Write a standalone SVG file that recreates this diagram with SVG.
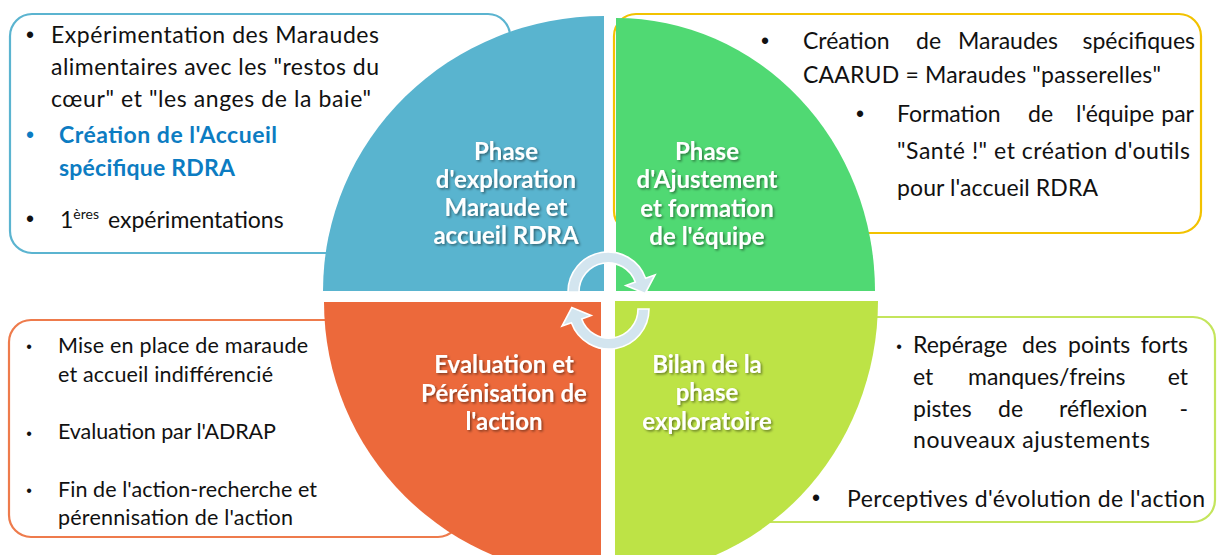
<svg xmlns="http://www.w3.org/2000/svg" width="1218" height="555" viewBox="0 0 1218 555">
<defs>
<filter id="sh" x="-10%" y="-20%" width="130%" height="150%">
<feDropShadow dx="1.5" dy="1.5" stdDeviation="1.2" flood-color="#000" flood-opacity="0.45"/>
</filter>
</defs>
<style>
.box{fill:#fff;stroke-width:2.2}
.t{font-family:Lato,"Liberation Sans",sans-serif;font-size:23px;fill:#111}
.s{font-size:21.5px}
.bl{font-family:"Liberation Sans",sans-serif;font-size:23px;fill:#111;text-anchor:middle}
.sb{font-size:16px}
.blue{fill:#0C7CC2;font-weight:bold}
.h{font-family:Lato,"Liberation Sans",sans-serif;font-weight:bold;font-size:24px;fill:#fff;text-anchor:middle;filter:url(#sh)}
.e{text-anchor:end}
.arrow{fill:#D3E5EF;stroke:#fff;stroke-width:1.6}
</style>
<rect width="1218" height="555" fill="#fff"/>

<g id="box-top-left">
<rect class="box" x="10" y="14" width="500" height="239" rx="22" stroke="#5BB4D0"/>
<text class="bl" x="30" y="43">•</text>
<text class="t" x="51" y="43" textLength="328">Expérimentation des Maraudes</text>
<text class="t" x="51" y="75" textLength="328">alimentaires avec les "restos du</text>
<text class="t" x="51" y="107" textLength="320">cœur" et "les anges de la baie"</text>
<text class="bl" x="30" y="143" style="fill:#0C7CC2">•</text>
<text class="t blue" x="59" y="143" textLength="218">Création de l'Accueil</text>
<text class="t blue" x="59" y="176" textLength="176">spécifique RDRA</text>
<text class="bl" x="30" y="227">•</text>
<text class="t" x="60" y="228">1<tspan font-size="14" dy="-9">ères</tspan><tspan dy="9" x="108">expérimentations</tspan></text>
</g>

<g id="box-top-right">
<rect class="box" x="614" y="14" width="587" height="219" rx="22" stroke="#F2C200"/>
<text class="bl" x="765" y="49">•</text>
<text class="t" x="803" y="49">Création</text>
<text class="t" x="916" y="49">de</text>
<text class="t" x="958" y="49">Maraudes</text>
<text class="t e" x="1195" y="49">spécifiques</text>
<text class="t" x="803" y="83" textLength="358">CAARUD = Maraudes "passerelles"</text>
<text class="bl" x="860" y="122">•</text>
<text class="t" x="897" y="122">Formation</text>
<text class="t" x="1028" y="122">de</text>
<text class="t" x="1076" y="122">l'équipe</text>
<text class="t e" x="1194" y="122">par</text>
<text class="t" x="897" y="159" textLength="293">"Santé !" et création d'outils</text>
<text class="t" x="897" y="196" textLength="201">pour l'accueil RDRA</text>
</g>

<g id="box-bottom-left">
<rect class="box" x="9" y="320" width="451" height="217" rx="22" stroke="#EE7B4C"/>
<text class="bl sb" x="29" y="352">•</text>
<text class="t s" x="58" y="353" textLength="250">Mise en place de maraude</text>
<text class="t s" x="58" y="382" textLength="215">et accueil indifférencié</text>
<text class="bl sb" x="29" y="439">•</text>
<text class="t s" x="58" y="439" textLength="218">Evaluation par l'ADRAP</text>
<text class="bl sb" x="29" y="496">•</text>
<text class="t s" x="58" y="497" textLength="259">Fin de l'action-recherche et</text>
<text class="t s" x="58" y="525" textLength="235">pérennisation de l'action</text>
</g>

<g id="box-bottom-right">
<rect class="box" x="700" y="317" width="515" height="205" rx="22" stroke="#C4E55C"/>
<text class="bl sb" x="899" y="352">•</text>
<text class="t" x="913" y="353">Repérage</text>
<text class="t" x="1022" y="353">des</text>
<text class="t" x="1068" y="353">points</text>
<text class="t e" x="1188" y="353">forts</text>
<text class="t" x="913" y="385">et</text>
<text class="t" x="968" y="385">manques/freins</text>
<text class="t e" x="1188" y="385">et</text>
<text class="t" x="913" y="417">pistes</text>
<text class="t" x="998" y="417">de</text>
<text class="t" x="1059" y="417">réflexion</text>
<text class="t e" x="1188" y="417">-</text>
<text class="t" x="913" y="448" textLength="237">nouveaux ajustements</text>
<text class="bl" x="816" y="506">•</text>
<text class="t" x="847" y="507" textLength="358">Perceptives d'évolution de l'action</text>
</g>

<g id="phase-exploration">
<path d="M604 291 L323 291 A281 275 0 0 1 604 16 Z" fill="#59B4CF"/>
<text class="h" x="506" y="160">Phase</text>
<text class="h" x="506" y="188">d'exploration</text>
<text class="h" x="506" y="216">Maraude et</text>
<text class="h" x="506" y="244">accueil RDRA</text>
</g>

<g id="phase-ajustement">
<path d="M616 291 L616 18 A259 273 0 0 1 875 291 Z" fill="#50D973"/>
<text class="h" x="707" y="160">Phase</text>
<text class="h" x="707" y="188">d'Ajustement</text>
<text class="h" x="707" y="217">et formation</text>
<text class="h" x="707" y="245">de l'équipe</text>
</g>

<g id="phase-evaluation">
<path d="M601 302 L601 577 A277 275 0 0 1 324 302 Z" fill="#EC693B"/>
<text class="h" x="504" y="373">Evaluation et</text>
<text class="h" x="504" y="402">Pérénisation de</text>
<text class="h" x="504" y="430">l'action</text>
</g>

<g id="phase-bilan">
<path d="M615 301 L878 301 A263 275 0 0 1 615 576 Z" fill="#BDE346"/>
<text class="h" x="707" y="373">Bilan de la</text>
<text class="h" x="707" y="401">phase</text>
<text class="h" x="707" y="430">exploratoire</text>
</g>

<g id="connectors">
<path class="arrow" d="M568 292 A40 40 0 0 1 645.6 278.3 L655 274.9 L645.2 293.4 L625.9 285.5 L635.3 282.1 A29 29 0 0 0 579 292 Z"/>
<path class="arrow" d="M649 309 A40 40 0 0 1 571.4 322.7 L562 326.1 L571.8 307.6 L591.1 315.5 L581.7 318.9 A29 29 0 0 0 638 309 Z"/>
</g>
</svg>
